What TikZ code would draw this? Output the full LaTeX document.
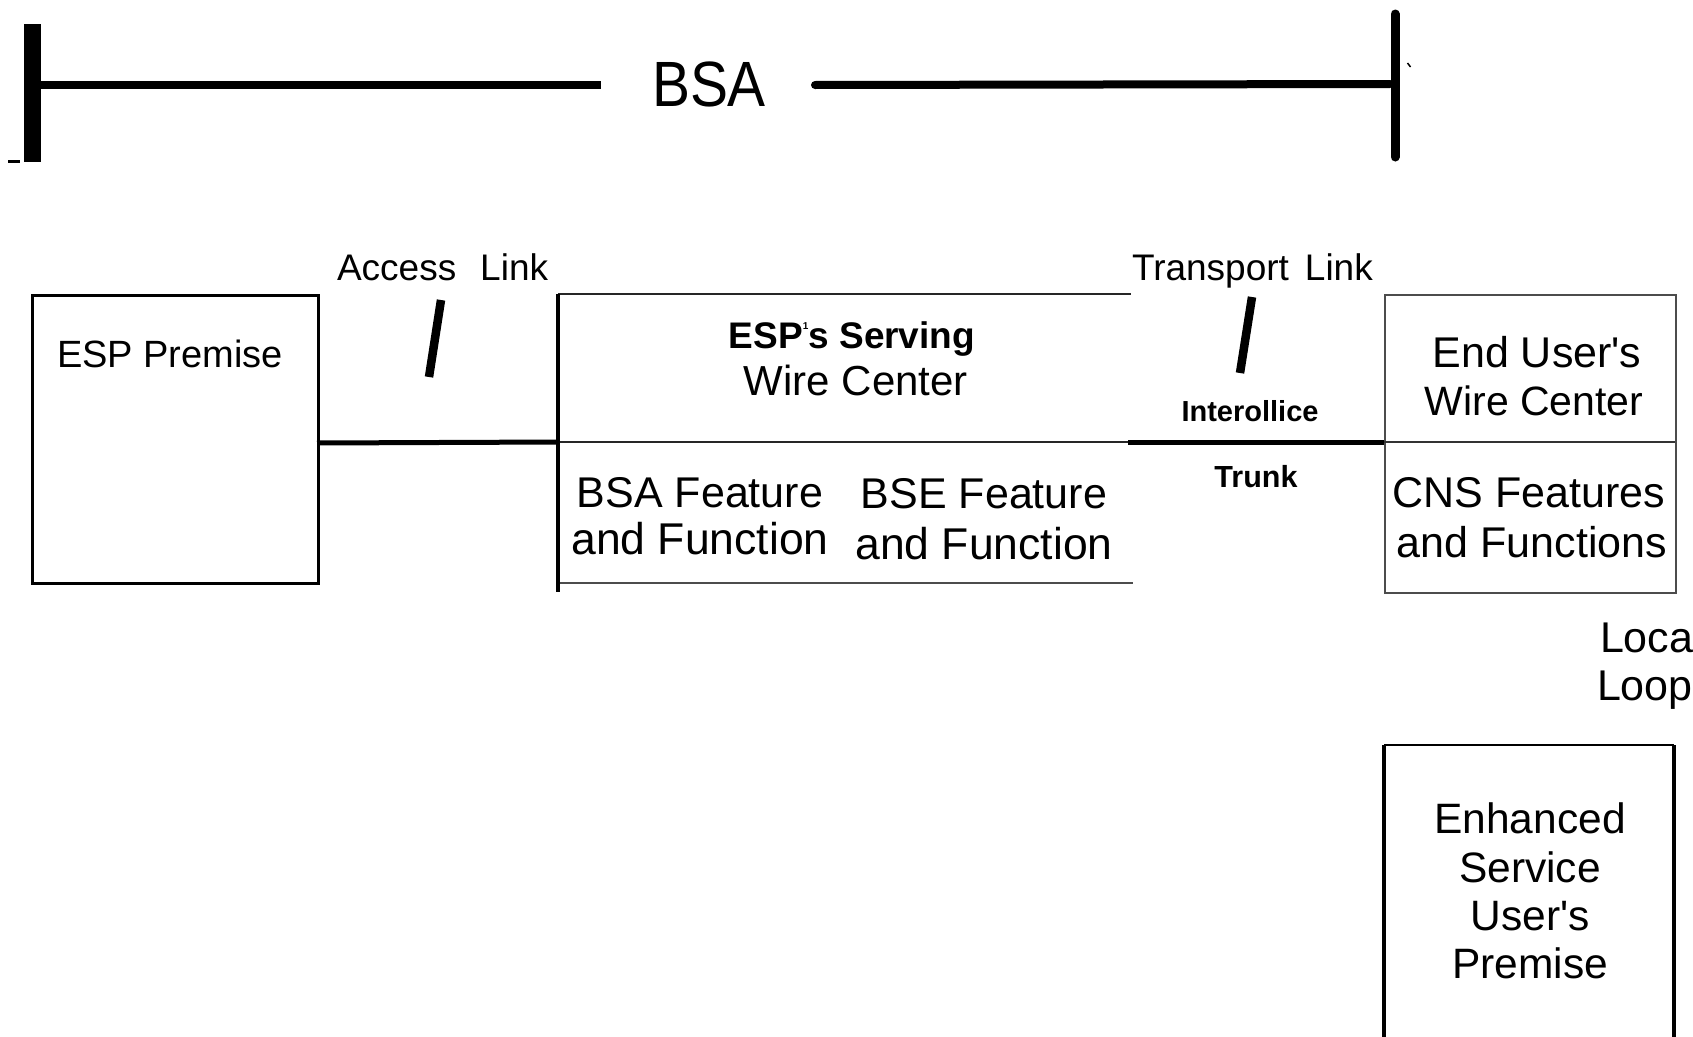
\documentclass[tikz,border=0pt]{standalone}
\usepackage{fontspec}
\usepackage{graphicx}
\setmainfont{Liberation Sans}
\newcommand{\myfs}[1]{\fontsize{#1}{#1}\selectfont}
\newcommand{\apo}{\textquotesingle}
\definecolor{linegray}{gray}{0.3}
\begin{document}
\begin{tikzpicture}[x=1pt,y=-1pt,
  txt/.style={inner sep=0pt, outer sep=0pt},
  body/.style={txt, font=\myfs{42}},
  boldsmall/.style={txt, font=\bfseries\myfs{29}},
  barline/.style={line width=8pt},
  heavy/.style={line width=5pt},
  boxline/.style={line width=3pt},
  thinline/.style={line width=1.6pt, draw=linegray},
  slashline/.style={line width=8.5pt}
]
\useasboundingbox (0,0) rectangle (1693,1036);
\clip (0,0) rectangle (1693,1036);

% ---------- BSA span ----------
\fill (24,24) rectangle (41,162);
\coordinate (bsaL) at (41,85);
\coordinate (bsaLe) at (601,85);
\coordinate (bsaRs) at (815,85);
\coordinate (bsaR) at (1390,84);
\draw[barline] (bsaL) -- (bsaLe);
\draw[barline, line cap=round] (bsaRs) -- (bsaR);
\coordinate (rbT) at (1395,14);
\coordinate (rbB) at (1395,157);
\draw[line width=9pt, line cap=round] (rbT) -- (rbB);
\node[txt, anchor=base west, font=\myfs{64}] (bsa) at (652,106) {\scalebox{0.89}[1]{BSA}};
\coordinate (dashA) at (8,161.5);
\coordinate (dashB) at (20,161.5);
\draw[line width=2.5pt] (dashA) -- (dashB);
\coordinate (tickA) at (1407.5,63);
\coordinate (tickB) at (1410.5,67);
\draw[line width=1.5pt] (tickA) -- (tickB);

% ---------- ESP Premise ----------
\node[draw, boxline, minimum width=286pt, minimum height=288pt, inner sep=0pt, anchor=north west] (esp) at (31,294) {};
\node[txt, anchor=base west, font=\myfs{38}] (esptxt) at (57,367) {ESP Premise};

% access link
\node[txt, anchor=base west, font=\myfs{37}] (access) at (337,280) {Access\hspace{24pt}Link};
\coordinate (s1a) at (441,300);
\coordinate (s1b) at (429,377);
\draw[slashline] (s1a) -- (s1b);

% ---------- ESP's serving wire center ----------
\coordinate (wcTL) at (558,294);
\coordinate (wcML) at (558,442);
\coordinate (wcBL) at (558,583);
\coordinate (wcBot) at (558,592);
\coordinate (wcTR) at (1131,294);
\coordinate (wcMR) at (1128,442);
\coordinate (wcBR) at (1133,583);
\draw[line width=2pt, draw=black!85] (wcTL) -- (wcTR);
\draw[line width=2pt, draw=black!85] (wcML) -- (wcMR);
\draw[thinline] (wcBL) -- (wcBR);
\draw[line width=4.5pt] (wcTL) -- (wcBot);
\coordinate (espR) at (317,443);
\draw[heavy] (espR) -- (wcML);

\node[txt, anchor=base, font=\bfseries\myfs{37}] (serv) at (852,348) {ESP\raisebox{19pt}{\myfs{10}1}s Serving};
\node[body, anchor=base] (wc1) at (856,395) {Wire Center};
\node[body, anchor=base, font=\myfs{43}] (bsaf1) at (700,507) {BSA Feature};
\node[body, anchor=base, font=\myfs{44.5}] (bsaf2) at (700,554) {and Function};
\node[body, anchor=base, font=\myfs{43}] (bsef1) at (984,508) {BSE Feature};
\node[body, anchor=base, font=\myfs{44.5}] (bsef2) at (984,559) {and Function};

% ---------- transport ----------
\node[txt, anchor=base west, font=\myfs{37}] (transport) at (1132,280) {Transport\hspace{16pt}Link};
\coordinate (s2a) at (1252,297);
\coordinate (s2b) at (1240,373);
\draw[slashline] (s2a) -- (s2b);
\node[boldsmall, anchor=base] (ioff) at (1250,421) {Interollice};
\node[boldsmall, anchor=base, font=\bfseries\myfs{30.5}] (trunk) at (1256,487) {Trunk};

% ---------- End user's wire center ----------
\node[draw=linegray, line width=1.6pt, minimum width=291pt, minimum height=298pt, inner sep=0pt, anchor=north west] (euwc) at (1384,294) {};
\coordinate (euML) at (1384,442);
\coordinate (euMR) at (1675,442);
\draw[thinline, draw=black!80] (euML) -- (euMR);
\draw[heavy] (wcMR) -- (euML);
\node[body, anchor=base, font=\myfs{43}] (eu1) at (1537,367) {End User\apo s};
\node[body, anchor=base, font=\myfs{41}] (eu2) at (1534,415) {Wire Center};
\node[body, anchor=base, font=\myfs{43}] (cns1) at (1529,507) {CNS Features};
\node[body, anchor=base, font=\myfs{43}] (cns2) at (1532,557) {and Functions};

% local loop
\node[body, anchor=base west, font=\myfs{43}] (loc1) at (1600,652) {Local};
\node[body, anchor=base west, font=\myfs{43}] (loc2) at (1597,700) {Loop};

% ---------- Enhanced service user's premise ----------
\coordinate (enTL) at (1384,745);
\coordinate (enTR) at (1674,745);
\coordinate (enBL) at (1384,1040);
\coordinate (enBR) at (1674,1040);
\draw[line width=2pt] (enTL) -- (enTR);
\draw[line width=4pt] (enTL) -- (enBL);
\draw[line width=4pt] (enTR) -- (enBR);
\node[body, anchor=base, font=\myfs{42.5}] (en1) at (1530,833) {Enhanced};
\node[body, anchor=base, font=\myfs{42.5}] (en2) at (1530,882) {Service};
\node[body, anchor=base, font=\myfs{42.5}] (en3) at (1530,930) {User\apo s};
\node[body, anchor=base, font=\myfs{42.5}] (en4) at (1530,978) {Premise};
\end{tikzpicture}
\end{document}
